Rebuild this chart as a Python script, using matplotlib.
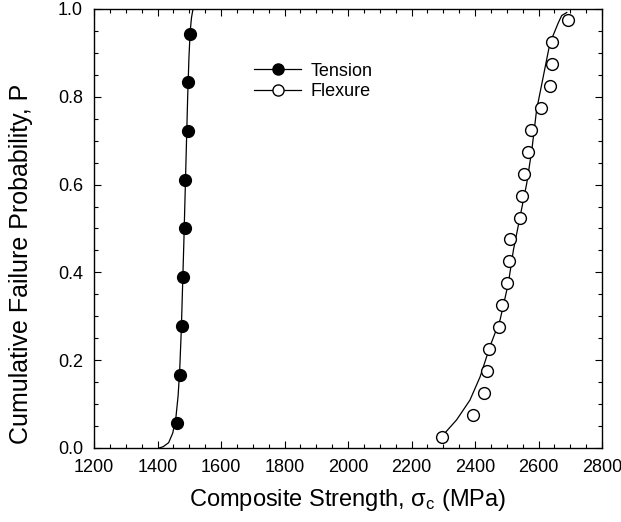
import matplotlib
matplotlib.use('Agg')
import matplotlib.pyplot as plt
from matplotlib.ticker import MultipleLocator

plt.rcParams['font.family'] = ['Liberation Sans', 'DejaVu Sans']
plt.rcParams['mathtext.default'] = 'regular'

# tension data points (MPa, P)
tension_x = [1460, 1471, 1476, 1480, 1487, 1487, 1497, 1497, 1502]
tension_p = [0.056, 0.167, 0.278, 0.389, 0.500, 0.611, 0.722, 0.833, 0.944]

# flexure data points
flexure_x = [2295, 2395, 2428, 2439, 2445, 2475, 2486, 2500, 2506, 2510,
             2541, 2549, 2555, 2566, 2575, 2608, 2637, 2641, 2641, 2694]
flexure_p = [0.025, 0.075, 0.125, 0.175, 0.225, 0.275, 0.325, 0.375, 0.425, 0.475,
             0.525, 0.575, 0.625, 0.675, 0.725, 0.775, 0.825, 0.875, 0.925, 0.975]

# fitted curves
tension_fit_x = [1405, 1418, 1435, 1448, 1458, 1465, 1470, 1475, 1479, 1483,
                 1487, 1491, 1495, 1499, 1503, 1507, 1511, 1513]
tension_fit_p = [0.0, 0.003, 0.012, 0.034, 0.07, 0.12, 0.18, 0.27, 0.37, 0.47,
                 0.58, 0.69, 0.80, 0.89, 0.95, 0.98, 0.997, 1.0]

flexure_fit_x = [2300, 2305, 2342, 2384, 2416, 2447, 2479, 2505, 2521, 2542,
                 2563, 2579, 2594, 2615, 2636, 2662, 2673, 2689]
flexure_fit_p = [0.028, 0.034, 0.064, 0.109, 0.162, 0.231, 0.292, 0.375, 0.451, 0.527,
                 0.603, 0.679, 0.770, 0.846, 0.922, 0.968, 0.985, 0.992]

fig = plt.figure(figsize=(6.21, 5.22), dpi=100)
ax = fig.add_axes([0.1514, 0.1418, 0.818, 0.841])

ax.plot(tension_fit_x, tension_fit_p, color='black', lw=0.9)
ax.plot(flexure_fit_x, flexure_fit_p, color='black', lw=0.9)
ax.plot(tension_x, tension_p, 'o', color='black', ms=8.5, zorder=3)
ax.plot(flexure_x, flexure_p, 'o', mfc='white', mec='black', mew=1.0, ms=8.5, zorder=3)

# legend handles: line with marker
h1, = ax.plot([], [], '-o', color='black', lw=0.9, ms=8)
h2, = ax.plot([], [], '-o', color='black', mfc='white', mew=1.0, lw=0.9, ms=8)
ax.legend([h1, h2], ['Tension', 'Flexure'], loc='upper left',
          bbox_to_anchor=(0.315, 0.878), frameon=False, fontsize=13,
          borderpad=0, borderaxespad=0, handlelength=2.6, handletextpad=0.55,
          labelspacing=0.2)

ax.set_xlim(1200, 2800)
ax.set_ylim(0.0, 1.0)
ax.xaxis.set_major_locator(MultipleLocator(200))
ax.xaxis.set_minor_locator(MultipleLocator(50))
ax.yaxis.set_major_locator(MultipleLocator(0.2))
ax.yaxis.set_minor_locator(MultipleLocator(0.05))
ax.yaxis.set_major_formatter(plt.FormatStrFormatter('%.1f'))
ax.tick_params(which='both', direction='in', top=True, right=True, labelsize=13, pad=8)
ax.tick_params(which='major', length=5, width=0.8)
ax.tick_params(which='minor', length=3, width=0.8)
for s in ax.spines.values():
    s.set_linewidth(1.0)

ax.set_xlabel(r'Composite Strength, σ$_{c}$ (MPa)', fontsize=17, labelpad=8)
ax.set_ylabel('Cumulative Failure Probability, P', fontsize=18)
ax.yaxis.set_label_coords(-0.12, 0.42)

fig.savefig('out.png', dpi=100)
